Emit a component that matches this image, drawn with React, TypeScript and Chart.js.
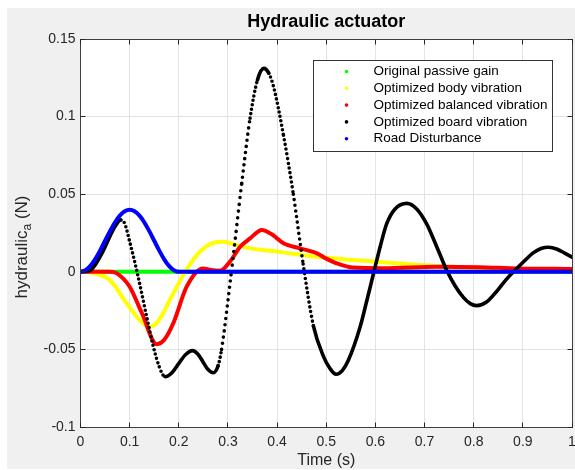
import React, { useEffect, useRef } from 'react';
import { Chart, registerables } from 'chart.js';

Chart.register(...registerables);

const TITLE = 'Hydraulic actuator';
const X_LABEL = 'Time (s)';
const Y_LABEL_MAIN = 'hydraulic';
const Y_LABEL_SUB = 'a';
const Y_LABEL_UNIT = ' (N)';

const X_TICKS = [0, 0.1, 0.2, 0.3, 0.4, 0.5, 0.6, 0.7, 0.8, 0.9, 1];
const Y_TICKS = [-0.1, -0.05, 0, 0.05, 0.1, 0.15];

const SERIES_NAMES = [
  'Original passive gain',
  'Optimized body vibration',
  'Optimized balanced vibration',
  'Optimized board vibration',
  'Road Disturbance',
];
const SERIES_COLORS = ['#00ff00', '#ffff00', '#ff0000', '#000000', '#0000ff'];

// Original passive gain
const T_PASSIVE = [0, 1];
const V_PASSIVE = [0, 0];

// Optimized body vibration
const T_BODY = [0, 0.03, 0.06, 0.094, 0.12, 0.14, 0.16, 0.182, 0.213, 0.243, 0.265, 0.29, 0.32, 0.345, 0.4, 0.48, 0.6, 0.725, 0.89, 1];
const V_BODY = [0, -0.001, -0.0055, -0.0203, -0.031, -0.0354, -0.031, -0.018, 0, 0.013, 0.018, 0.0194, 0.017, 0.0151, 0.013, 0.0097, 0.0065, 0.0037, 0.0016, 0.0012];

// Optimized balanced vibration
const T_BAL = [0, 0.06, 0.074, 0.1, 0.125, 0.155, 0.17, 0.189, 0.216, 0.249, 0.265, 0.284, 0.305, 0.325, 0.345, 0.369, 0.39, 0.413, 0.447, 0.481, 0.5, 0.521, 0.555, 0.616, 0.725, 0.81, 0.89, 1];
const V_BAL = [0, 0, -0.001, -0.0096, -0.0267, -0.0467, -0.044, -0.033, -0.0096, 0.0022, 0.0012, 0.0007, 0.007, 0.0162, 0.0215, 0.027, 0.024, 0.0184, 0.0151, 0.0119, 0.0085, 0.0055, 0.0027, 0.0023, 0.0033, 0.003, 0.0022, 0.0018];

// Optimized board vibration
const T_BOARD = [
  0, 0.02, 0.03, 0.04, 0.05, 0.06, 0.07, 0.082, 0.09, 0.1, 0.115, 0.136, 0.148, 0.16, 0.172,
  0.186, 0.2, 0.214, 0.228, 0.2385, 0.249, 0.2595, 0.27, 0.28, 0.287, 0.307, 0.328, 0.345, 0.36, 0.373,
  0.383, 0.393, 0.413, 0.433, 0.453, 0.474, 0.495, 0.507, 0.52, 0.533, 0.545, 0.569, 0.583, 0.597,
  0.61, 0.623, 0.64, 0.664, 0.684, 0.704, 0.725, 0.745, 0.762, 0.779, 0.793, 0.806, 0.826, 0.847,
  0.866, 0.884, 0.903, 0.921, 0.937, 0.952, 0.97, 0.985, 1.0,
];
const V_BOARD = [
  0, 0.001, 0.0045, 0.0097, 0.016, 0.023, 0.029, 0.0334, 0.031, 0.0195, 0, -0.031, -0.048, -0.061, -0.0676,
  -0.065, -0.059, -0.0533, -0.0508, -0.0529, -0.0579, -0.063, -0.065, -0.0605, -0.05, 0, 0.057, 0.099, 0.1236, 0.1311,
  0.128, 0.119, 0.088, 0.05, 0.005, -0.035, -0.055, -0.062, -0.066, -0.0635, -0.057, -0.0354, -0.018, 0,
  0.0165, 0.031, 0.0405, 0.0441, 0.0405, 0.031, 0.016, 0.001, -0.009, -0.0165, -0.0205, -0.0218, -0.0195, -0.0125,
  -0.005, 0.001, 0.007, 0.0122, 0.015, 0.0158, 0.0145, 0.012, 0.0095,
];
// time ranges where the board-vibration markers are visibly separated
const BOARD_DOTTED_RANGES = [[0.085, 0.168], [0.283, 0.36], [0.385, 0.478]];

// Road Disturbance
const T_ROAD = [0, 0.01, 0.02, 0.03, 0.04, 0.05, 0.06, 0.07, 0.08, 0.09, 0.1, 0.11, 0.12, 0.13, 0.14, 0.15, 0.16, 0.17, 0.18, 0.19, 0.2, 1];
const V_ROAD = [0, 0.001, 0.0038, 0.0082, 0.0138, 0.02, 0.0262, 0.0318, 0.0362, 0.039, 0.04, 0.039, 0.0362, 0.0318, 0.0262, 0.02, 0.0138, 0.0082, 0.0038, 0.001, 0, 0];

const SERIES_T = [T_PASSIVE, T_BODY, T_BAL, T_BOARD, T_ROAD];
const SERIES_V = [V_PASSIVE, V_BODY, V_BAL, V_BOARD, V_ROAD];
const SERIES_DOTTED = [[], [], [], BOARD_DOTTED_RANGES, []];

const FONT = '"Liberation Sans", Arial, Helvetica, sans-serif';
const SAMPLE_DT = 0.0016; // nominal time step of the plotted markers

function fmt(v: number) {
  return String(Math.round(Number(v) * 1000) / 1000);
}

function dotted(T: number[], ranges: number[][]) {
  return (ctx: any) => {
    const t0 = T[ctx.p0DataIndex];
    const t1 = T[ctx.p1DataIndex];
    const tm = (t0 + t1) / 2;
    if (!ranges.some((r) => tm >= r[0] && tm <= r[1])) return undefined;
    const a = ctx.p0;
    const b = ctx.p1;
    const L = Math.hypot(b.x - a.x, b.y - a.y);
    const n = (t1 - t0) / SAMPLE_DT;
    if (n <= 0) return undefined;
    const gap = Math.max(4.5, Math.min(6.8, L / n));
    return [0, gap];
  };
}

const decoPlugin = {
  id: 'deco',
  beforeDraw(chart: any) {
    const { ctx, chartArea: a, width, height } = chart;
    ctx.save();
    ctx.fillStyle = '#f0f0f0';
    ctx.fillRect(0, 0, width, height);
    ctx.fillStyle = '#ffffff';
    ctx.fillRect(a.left, a.top, a.right - a.left, a.bottom - a.top);
    ctx.restore();
  },
  afterDraw(chart: any) {
    const { ctx, chartArea: a } = chart;
    const xs = chart.scales.x;
    const ys = chart.scales.y;
    const L = Math.floor(a.left) + 0.5;
    const R = Math.floor(a.right) + 0.5;
    const T = Math.floor(a.top) + 0.5;
    const B = Math.floor(a.bottom) + 0.5;
    ctx.save();
    // axes box
    ctx.strokeStyle = '#404040';
    ctx.lineWidth = 1;
    ctx.strokeRect(L, T, R - L, B - T);
    // inward ticks
    ctx.strokeStyle = '#262626';
    ctx.beginPath();
    X_TICKS.forEach((v) => {
      const px = Math.floor(xs.getPixelForValue(v)) + 0.5;
      ctx.moveTo(px, B); ctx.lineTo(px, B - 5);
      ctx.moveTo(px, T); ctx.lineTo(px, T + 5);
    });
    Y_TICKS.forEach((v) => {
      const py = Math.floor(ys.getPixelForValue(v)) + 0.5;
      ctx.moveTo(L, py); ctx.lineTo(L + 5, py);
      ctx.moveTo(R, py); ctx.lineTo(R - 5, py);
    });
    ctx.stroke();

    // title
    ctx.fillStyle = '#000000';
    ctx.textAlign = 'center';
    ctx.textBaseline = 'middle';
    ctx.font = `bold 18px ${FONT}`;
    ctx.fillText(TITLE, (a.left + a.right) / 2, a.top - 17);

    // x label
    ctx.fillStyle = '#262626';
    ctx.font = `16px ${FONT}`;
    ctx.fillText(X_LABEL, (a.left + a.right) / 2, a.bottom + 34);

    // y label with subscript
    ctx.save();
    ctx.translate(15, (a.top + a.bottom) / 2 + 14);
    ctx.rotate(-Math.PI / 2);
    ctx.textAlign = 'left';
    ctx.textBaseline = 'middle';
    ctx.font = `17px ${FONT}`;
    const w1 = ctx.measureText(Y_LABEL_MAIN).width;
    const w3 = ctx.measureText(Y_LABEL_UNIT).width;
    ctx.font = `12px ${FONT}`;
    const w2 = ctx.measureText(Y_LABEL_SUB).width;
    let x0 = -(w1 + w2 + w3) / 2;
    ctx.font = `17px ${FONT}`;
    ctx.fillText(Y_LABEL_MAIN, x0, 0);
    x0 += w1;
    ctx.font = `12px ${FONT}`;
    ctx.fillText(Y_LABEL_SUB, x0, 6);
    x0 += w2;
    ctx.font = `17px ${FONT}`;
    ctx.fillText(Y_LABEL_UNIT, x0, 0);
    ctx.restore();

    // legend
    const bw = 239;
    const bh = 91;
    const bx = Math.floor(a.right - 20) + 0.5 - bw;
    const by = Math.floor(a.top + 21) + 0.5;
    ctx.fillStyle = '#ffffff';
    ctx.fillRect(bx, by, bw, bh);
    ctx.strokeStyle = '#333333';
    ctx.strokeRect(bx, by, bw, bh);
    ctx.font = `13.5px ${FONT}`;
    ctx.textAlign = 'left';
    ctx.textBaseline = 'middle';
    chart.data.datasets.forEach((ds: any, i: number) => {
      const cy = by + 11 + i * 16.8;
      ctx.fillStyle = ds.borderColor;
      ctx.beginPath();
      ctx.arc(bx + 33, cy, 1.8, 0, Math.PI * 2);
      ctx.fill();
      ctx.fillStyle = '#000000';
      ctx.fillText(ds.label, bx + 60, cy);
    });
    ctx.restore();
  },
};

export default function App() {
  const ref = useRef<HTMLCanvasElement | null>(null);

  useEffect(() => {
    if (!ref.current) return;
    const datasets = SERIES_NAMES.map((name, i) => ({
      label: name,
      data: SERIES_T[i].map((t, k) => ({ x: t, y: SERIES_V[i][k] })),
      borderColor: SERIES_COLORS[i],
      backgroundColor: SERIES_COLORS[i],
      borderWidth: i === 3 ? 3.6 : 4,
      pointRadius: 0,
      pointHoverRadius: 0,
      cubicInterpolationMode: 'monotone' as const,
      borderCapStyle: 'round' as const,
      borderJoinStyle: 'round' as const,
      fill: false,
      order: SERIES_NAMES.length - i,
      segment: { borderDash: dotted(SERIES_T[i], SERIES_DOTTED[i]) },
    }));

    const chart = new Chart(ref.current, {
      type: 'line',
      data: { datasets },
      options: {
        animation: false,
        responsive: false,
        devicePixelRatio: 1,
        events: [],
        layout: { padding: { left: 0, top: 31, right: 3, bottom: 0 } },
        plugins: {
          legend: { display: false },
          title: { display: false },
          tooltip: { enabled: false },
        },
        scales: {
          x: {
            type: 'linear',
            min: 0,
            max: 1,
            afterBuildTicks: (s: any) => { s.ticks = X_TICKS.map((v) => ({ value: v })); },
            afterFit: (s: any) => { s.height = 42; s.paddingLeft = 0; s.paddingRight = 0; },
            ticks: {
              callback: (v: any) => fmt(v),
              font: { family: FONT, size: 14 },
              color: '#262626',
              padding: 7,
              maxRotation: 0,
              autoSkip: false,
            },
            grid: { color: '#e3e3e3', drawTicks: false, lineWidth: 1 },
            border: { display: false },
          },
          y: {
            type: 'linear',
            min: -0.1,
            max: 0.15,
            afterBuildTicks: (s: any) => { s.ticks = Y_TICKS.map((v) => ({ value: v })); },
            afterFit: (s: any) => { s.width = 73.5; s.paddingTop = 0; s.paddingBottom = 0; },
            ticks: {
              callback: (v: any) => fmt(v),
              font: { family: FONT, size: 14 },
              color: '#262626',
              padding: 5,
              autoSkip: false,
            },
            grid: { color: '#e3e3e3', drawTicks: false, lineWidth: 1 },
            border: { display: false },
          },
        },
      },
      plugins: [decoPlugin],
    });
    return () => chart.destroy();
  }, []);

  return (
    <div style={{ position: 'fixed', left: 0, top: 0, width: 575, height: 470, background: '#ffffff' }}>
      <canvas
        ref={ref}
        width={568}
        height={461}
        style={{ position: 'absolute', left: 7, top: 8, width: 568, height: 461, display: 'block' }}
      />
    </div>
  );
}
